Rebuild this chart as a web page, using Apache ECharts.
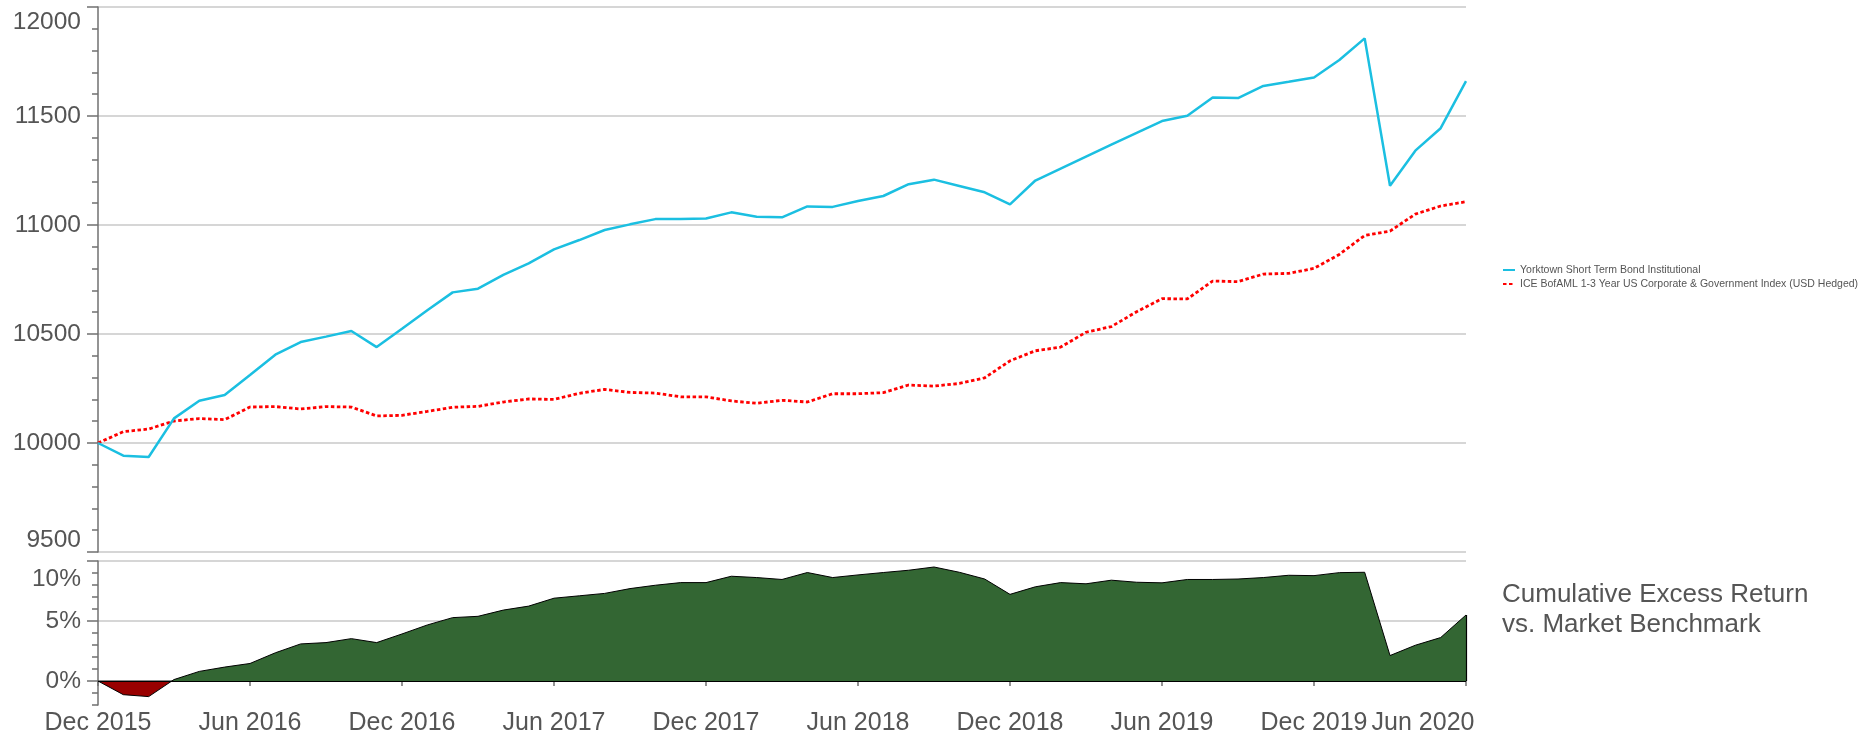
<!DOCTYPE html>
<html>
<head>
<meta charset="utf-8">
<title>Yorktown Short Term Bond Institutional</title>
<script src="https://cdn.jsdelivr.net/npm/echarts@6/dist/echarts.min.js"></script>
<style>
    html, body { margin: 0; padding: 0; background: #fff; }
    #main { width: 1869px; height: 741px; }
</style>
</head>
<body>
<div id="main"></div>
<script>
const months = [
    'Dec 2015',
    'Jan 2016', 'Feb 2016', 'Mar 2016', 'Apr 2016', 'May 2016', 'Jun 2016',
    'Jul 2016', 'Aug 2016', 'Sep 2016', 'Oct 2016', 'Nov 2016', 'Dec 2016',
    'Jan 2017', 'Feb 2017', 'Mar 2017', 'Apr 2017', 'May 2017', 'Jun 2017',
    'Jul 2017', 'Aug 2017', 'Sep 2017', 'Oct 2017', 'Nov 2017', 'Dec 2017',
    'Jan 2018', 'Feb 2018', 'Mar 2018', 'Apr 2018', 'May 2018', 'Jun 2018',
    'Jul 2018', 'Aug 2018', 'Sep 2018', 'Oct 2018', 'Nov 2018', 'Dec 2018',
    'Jan 2019', 'Feb 2019', 'Mar 2019', 'Apr 2019', 'May 2019', 'Jun 2019',
    'Jul 2019', 'Aug 2019', 'Sep 2019', 'Oct 2019', 'Nov 2019', 'Dec 2019',
    'Jan 2020', 'Feb 2020', 'Mar 2020', 'Apr 2020', 'May 2020', 'Jun 2020'
]

// growth of 10000
const fundValues = [
    10000,
    9942, 9936, 10113, 10194, 10220, 10312, 10405, 10463, 10488, 10514, 10440, 10524,
    10609, 10691, 10708, 10771, 10824, 10888, 10931, 10977, 11003, 11027, 11027, 11030,
    11058, 11038, 11035, 11085, 11083, 11110, 11133, 11187, 11208, 11179, 11150, 11095,
    11204, 11259, 11314, 11369, 11423, 11477, 11501, 11585, 11582, 11638, 11657, 11677,
    11757, 11856, 11180, 11341, 11444, 11660
]
const indexValues = [
    10000,
    10052, 10064, 10101, 10112, 10107, 10165, 10167, 10156, 10167, 10165, 10124, 10127,
    10145, 10164, 10168, 10188, 10202, 10200, 10228, 10246, 10232, 10229, 10212, 10212,
    10193, 10182, 10196, 10188, 10226, 10226, 10231, 10266, 10261, 10273, 10299, 10377,
    10423, 10440, 10508, 10534, 10602, 10662, 10661, 10743, 10740, 10775, 10778, 10801,
    10865, 10952, 10972, 11050, 11087, 11107
]
// cumulative excess return, %
const excessReturn = [
    0,
    -1.14, -1.30, 0.12, 0.80, 1.16, 1.46, 2.35, 3.09, 3.20, 3.53, 3.20, 3.92,
    4.67, 5.28, 5.39, 5.91, 6.24, 6.90, 7.10, 7.30, 7.70, 7.98, 8.20, 8.20,
    8.73, 8.62, 8.46, 9.04, 8.62, 8.84, 9.04, 9.23, 9.50, 9.06, 8.50, 7.22,
    7.85, 8.20, 8.10, 8.40, 8.23, 8.18, 8.46, 8.46, 8.50, 8.62, 8.81, 8.78,
    9.03, 9.06, 2.12, 2.98, 3.62, 5.50
]
const excessTicks = [0, 5, 10]

const fundName = 'Yorktown Short Term Bond Institutional'
const indexName = 'ICE BofAML 1-3 Year US Corporate & Government Index (USD Hedged)'

const font = "'Liberation Sans', Arial, Helvetica, sans-serif"
const axisGrey = '#707070'
const gridGrey = '#c8c8c8'
const textGrey = '#555555'

function labelRich(size) {
    return {
        n: {fontSize: size, color: textGrey, fontFamily: font},
        t: {fontSize: size, color: textGrey, fontFamily: font, padding: [30, 0, 0, 0]},
        t2: {fontSize: size, color: textGrey, fontFamily: font, padding: [36, 0, 0, 0]},
        b: {fontSize: size, color: textGrey, fontFamily: font, padding: [0, 0, 24, 0]},
        last: {fontSize: size, color: textGrey, fontFamily: font, padding: [0, 86, 0, 0]}
    }
}

let myChart = echarts.init(document.getElementById('main'))

let option = {
    animation: false,
    backgroundColor: '#ffffff',
    textStyle: {fontFamily: font},
    grid: [
        {left: 98, right: 403, top: 7, height: 545},
        {left: 98, right: 403, top: 561, height: 144}
    ],
    legend: {
        orient: 'vertical',
        left: 1502,
        top: 264,
        padding: 0,
        itemWidth: 12,
        itemHeight: 8,
        itemGap: 2,
        data: [fundName, indexName],
        itemStyle: {opacity: 0},
        textStyle: {fontSize: 10.5, color: textGrey, fontFamily: font, lineHeight: 12}
    },
    visualMap: {
        type: 'piecewise',
        show: false,
        seriesIndex: 2,
        dimension: 1,
        pieces: [
            {gte: -3, lt: 0, color: '#990000'},
            {gte: 0, lte: 12, color: '#336633'}
        ]
    },
    xAxis: [
        {
            type: 'category',
            gridIndex: 0,
            data: months,
            boundaryGap: false,
            show: false
        },
        {
            type: 'category',
            gridIndex: 1,
            data: months,
            boundaryGap: false,
            axisLine: {show: true, lineStyle: {color: axisGrey, width: 1.5}},
            axisTick: {show: true, interval: 5, length: 5, lineStyle: {color: axisGrey, width: 1.5}},
            axisLabel: {
                interval: 5,
                margin: 6,
                formatter: (v, i) => i === months.length - 1 ? '{last|' + v + '}' : '{n|' + v + '}',
                rich: labelRich(25)
            },
            splitLine: {show: false}
        }
    ],
    yAxis: [
        {
            type: 'value',
            gridIndex: 0,
            min: 9500,
            max: 12000,
            interval: 500,
            axisLine: {show: true, lineStyle: {color: axisGrey, width: 1.5}},
            axisTick: {show: true, length: 11, lineStyle: {color: axisGrey, width: 1.5}},
            minorTick: {show: true, splitNumber: 5, length: 6, lineStyle: {color: axisGrey, width: 1.5}},
            splitLine: {show: true, lineStyle: {color: gridGrey, width: 1.5}},
            axisLabel: {
                margin: 17,
                formatter: v => v === 12000 ? '{t|' + v + '}' : (v === 9500 ? '{b|' + v + '}' : '{n|' + v + '}'),
                rich: labelRich(24.5)
            }
        },
        {
            type: 'value',
            gridIndex: 1,
            min: -2,
            max: 10,
            interval: 1,
            axisLine: {show: true, lineStyle: {color: axisGrey, width: 1.5}},
            axisTick: {show: true, length: 6, lineStyle: {color: axisGrey, width: 1.5}},
            splitLine: {show: false},
            axisLabel: {
                margin: 17,
                formatter: v => v === 10 ? '{t2|10%}' : (v % 5 === 0 ? '{n|' + v + '%}' : ''),
                rich: labelRich(24.5)
            }
        },
        {
            // major ticks and grid lines of the lower panel
            type: 'value',
            gridIndex: 1,
            position: 'left',
            min: -2,
            max: 10,
            axisLine: {show: false},
            axisTick: {show: true, customValues: excessTicks, length: 11, lineStyle: {color: axisGrey, width: 1.5}},
            axisLabel: {show: false},
            splitLine: {show: true, lineStyle: {color: gridGrey, width: 1.5}}
        }
    ],
    series: [
        {
            name: fundName,
            type: 'line',
            xAxisIndex: 0,
            yAxisIndex: 0,
            data: fundValues,
            symbol: 'none',
            color: '#1bbfe1',
            lineStyle: {color: '#1bbfe1', width: 2.5},
            z: 4
        },
        {
            name: indexName,
            type: 'line',
            xAxisIndex: 0,
            yAxisIndex: 0,
            data: indexValues,
            symbol: 'none',
            color: '#ff0000',
            lineStyle: {color: '#ff0000', width: 2.8, type: [3.5, 2.5]},
            z: 3
        },
        {
            name: 'Excess Return',
            type: 'line',
            xAxisIndex: 1,
            yAxisIndex: 1,
            data: excessReturn,
            symbol: 'none',
            lineStyle: {color: '#000000', width: 1},
            areaStyle: {opacity: 1},
            z: 3,
            markLine: {
                silent: true,
                symbol: 'none',
                label: {show: false},
                lineStyle: {color: '#000000', type: 'solid', width: 1.2},
                data: [
                    {yAxis: 0},
                    [
                        {coord: [months.length - 1, 0]},
                        {coord: [months.length - 1, excessReturn[excessReturn.length - 1]]}
                    ]
                ]
            }
        }
    ],
    graphic: [
        {
            type: 'text',
            left: 1502,
            top: 580,
            style: {
                text: 'Cumulative Excess Return\nvs. Market Benchmark',
                fontSize: 26,
                fontFamily: font,
                lineHeight: 30,
                fill: textGrey
            }
        }
    ]
}

option && myChart.setOption(option)
</script>
</body>
</html>
